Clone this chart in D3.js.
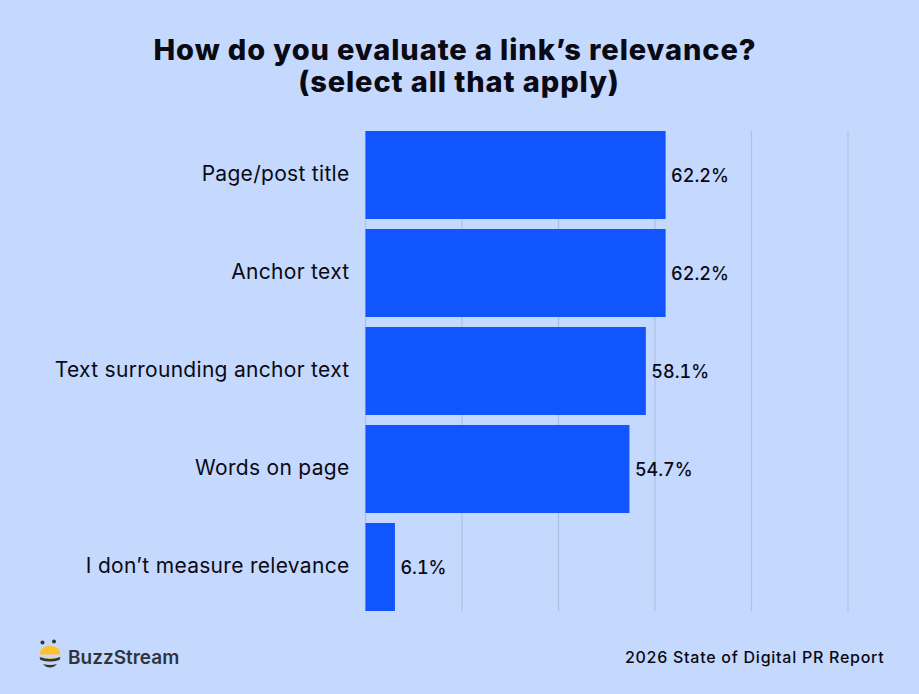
<!DOCTYPE html>
<html>
<head>
<meta charset="utf-8">
<script src="https://cdn.jsdelivr.net/npm/d3@7"></script>
<style>
  html, body { margin: 0; padding: 0; background: #c5d9ff; }
  svg { display: block; }
  text { font-family: Inter, "Noto Sans", sans-serif; fill: #0a0a14; }
</style>
</head>
<body>
<div id="chart"></div>
<script>
var categories = ["Page/post title", "Anchor text", "Text surrounding anchor text", "Words on page", "I don\u2019t measure relevance"];
var percents = [62.2, 62.2, 58.1, 54.7, 6.1];
var gridTicks = [0, 20, 40, 60, 80, 100];
var titleLines = ["How do you evaluate a link\u2019s relevance?", "(select all that apply)"];

var width = 919, height = 694;
var svg = d3.select("#chart").append("svg").attr("width", width).attr("height", height);

var x = d3.scaleLinear().domain([0, 100]).range([365.5, 848]);
var y = d3.scaleBand().domain(categories).range([131, 611]).paddingInner(0.102).paddingOuter(0);

// Gridlines sit under the bars
svg.append("g").selectAll("line")
    .data(gridTicks)
    .join("line")
    .attr("x1", d => x(d))
    .attr("x2", d => x(d))
    .attr("y1", 131)
    .attr("y2", 611)
    .attr("stroke", "#aebfe2")
    .attr("stroke-width", 1.2);

// Bars
svg.append("g").selectAll("rect")
    .data(percents)
    .join("rect")
    .attr("x", x(0))
    .attr("y", (d, i) => y(categories[i]))
    .attr("width", d => x(d) - x(0))
    .attr("height", y.bandwidth())
    .attr("fill", "#1155ff");

// Category labels
svg.append("g").selectAll("text")
    .data(categories)
    .join("text")
    .attr("x", 349.5)
    .attr("y", d => y(d) + y.bandwidth() / 2 - 1)
    .attr("dy", "0.35em")
    .attr("text-anchor", "end")
    .attr("font-size", 21)
    .attr("letter-spacing", 0.3)
    .text(d => d);

// Value labels
svg.append("g").selectAll("text")
    .data(percents)
    .join("text")
    .attr("x", d => x(d) + 5.5)
    .attr("y", (d, i) => y(categories[i]) + y.bandwidth() / 2 + 0.5)
    .attr("dy", "0.35em")
    .attr("font-size", 18)
    .attr("font-weight", 500)
    .style("font-variant-numeric", "tabular-nums")
    .text(d => d.toFixed(1) + "%");

// Title, second line sits a little right of centre in the original
svg.append("g").selectAll("text")
    .data(titleLines)
    .join("text")
    .attr("x", (d, i) => i ? 459 : 455)
    .attr("y", (d, i) => 60 + i * 32)
    .attr("text-anchor", "middle")
    .attr("font-size", 29)
    .attr("font-weight", 800)
    .attr("letter-spacing", 0.9)
    .text(d => d);

// Footer source
svg.append("text")
    .attr("x", 884.5)
    .attr("y", 663)
    .attr("text-anchor", "end")
    .attr("font-size", 16)
    .attr("font-weight", 500)
    .attr("letter-spacing", 0.74)
    .text("2026 State of Digital PR Report");

// BuzzStream logo
var logo = svg.append("g");
logo.append("circle").attr("cx", 42.5).attr("cy", 642.5).attr("r", 2).attr("fill", "#30343c");
logo.append("circle").attr("cx", 54).attr("cy", 641.5).attr("r", 2).attr("fill", "#30343c");
logo.append("path").attr("d", "M39.5 654.5 A10.5 9 0 0 1 60.5 654.5 Z").attr("fill", "#fdc22d");
logo.append("path").attr("d", "M39.5 656.5 Q50 660 60.5 656.5 Q59 661 50 661.5 Q41 661 39.5 656.5 Z").attr("fill", "#fdc22d");
logo.append("path").attr("d", "M39.5 657 Q50 661 60.5 657 L59.5 660 Q50 663 40.5 660 Z").attr("fill", "#30343c");
logo.append("path").attr("d", "M43 664 Q50 666 57 664 Q54 667.5 50 667.5 Q46 667.5 43 664 Z").attr("fill", "#30343c");
logo.append("text")
    .attr("x", 68)
    .attr("y", 664)
    .attr("font-size", 19)
    .attr("font-weight", 600)
    .style("fill", "#30343c")
    .text("BuzzStream");
</script>
</body>
</html>
